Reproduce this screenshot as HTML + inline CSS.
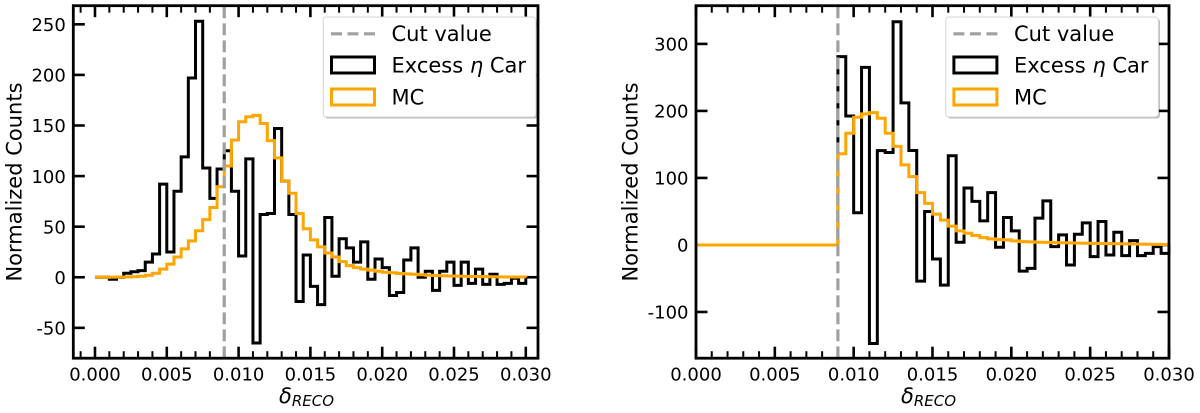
<!DOCTYPE html>
<html lang="en">
<head>
<meta charset="utf-8">
<title>Normalized Counts vs delta RECO</title>
<style>
html,body{margin:0;padding:0;background:#fff;}
body{width:1200px;height:413px;overflow:hidden;}
svg{display:block;filter:blur(0.35px);}
text{font-family:"DejaVu Sans","Liberation Sans",sans-serif;fill:#000;}
</style>
</head>
<body>
<svg id="figure" xmlns="http://www.w3.org/2000/svg" width="1200" height="413" viewBox="0 0 1200 413">
  <rect x="0" y="0" width="1200" height="413" fill="#fff"/>
  <g id="left-panel"></g>
  <g id="right-panel"></g>

  <g>
    <rect x="324.8" y="18.5" width="212.7" height="100" rx="3" fill="#000" opacity="0.28"/>
    <rect x="323.3" y="17" width="212.7" height="100" rx="3" fill="#fff" stroke="#d6d6d6" stroke-width="1"/>
    <line x1="331" y1="33.8" x2="375" y2="33.8" stroke="#a0a0a0" stroke-width="3.2" stroke-dasharray="11,5.5"/>
    <rect x="331.5" y="57" width="43" height="16" fill="none" stroke="#000" stroke-width="3"/>
    <rect x="331.5" y="89" width="43" height="16" fill="none" stroke="#ffa500" stroke-width="3"/>
    <text x="391.5" y="41" font-size="21">Cut value</text>
    <text x="391.5" y="72.5" font-size="21">Excess <tspan font-style="italic">η</tspan> Car</text>
    <text x="391.5" y="104.5" font-size="21">MC</text>
  </g>

  <g>
    <rect x="947.2" y="18.5" width="212.7" height="100" rx="3" fill="#000" opacity="0.28"/>
    <rect x="945.7" y="17" width="212.7" height="100" rx="3" fill="#fff" stroke="#d6d6d6" stroke-width="1"/>
    <line x1="953.4" y1="33.8" x2="997.4" y2="33.8" stroke="#a0a0a0" stroke-width="3.2" stroke-dasharray="11,5.5"/>
    <rect x="953.9" y="57" width="43" height="16" fill="none" stroke="#000" stroke-width="3"/>
    <rect x="953.9" y="89" width="43" height="16" fill="none" stroke="#ffa500" stroke-width="3"/>
    <text x="1014" y="41" font-size="21">Cut value</text>
    <text x="1014" y="72.5" font-size="21">Excess <tspan font-style="italic">η</tspan> Car</text>
    <text x="1014" y="104.5" font-size="21">MC</text>
  </g>
</svg>

<script>
const binWidth = 0.0005;
const cutValue = 0.009;

const leftExcess = [0,0,-2,0,4,5.5,6.5,15,23,92,25,85,119,197,253,108,78,107,125,85,21,117,-65,62,63,147,95,62,-24,22,-9,-27,59,1,38,29,15,35,-2,18,9.5,-18,-15,17,29,0,6,-13,6,15,-8,15,-6,8,-7,3,-7,-6,-1,-6];
const leftMC = [0,0,0.1,0.2,0.3,0.5,1,2,4,8,13,20,28,36,46,57,69,89.5,110,135.7,153.7,158.7,160,152,135,118,95,83,63,48,37,30,24,20,15.5,11.5,9.5,8,7,6,5,4.5,3.7,3.3,3,2.5,2,1.8,1.5,1.3,1.1,1,0.8,0.7,0.6,0.5,0.4,0.3,0.3,0.2];
const rightExcess = [0,0,0,0,0,0,0,0,0,0,0,0,0,0,0,0,0,0,281,192.5,48,265,-147,140.7,138,333,212,141,-54,50,-21,-60,133,4,85,65,36,78,-3.5,41,21,-39,-35,40,65.7,-2.5,15,-30,16,33,-17.5,35,-15,19,-16,6.5,-16,-12.5,-2.5,-12.5];
const rightMC = [0,0,0,0,0,0,0,0,0,0,0,0,0,0,0,0,0,0,136,166.7,190.5,195.5,197.5,189,166.7,147,119.4,102,78,62,46,37,28,21,17.5,14,11,9,8,7.5,6,5,4.5,4,3.8,3.5,3.2,3,2.8,2.6,2.4,2.2,2,1.8,1.6,1.4,1.2,1,0.8,0.6];

const xTickValues = [0,0.005,0.01,0.015,0.02,0.025,0.03];
const xTickLabels = ["0.000","0.005","0.010","0.015","0.020","0.025","0.030"];
const leftYTicks = [-50,0,50,100,150,200,250];
const rightYTicks = [-100,0,100,200,300];

const SVG_NS = "http://www.w3.org/2000/svg";

function make(tag, parent) {
  const el = document.createElementNS(SVG_NS, tag);
  parent.appendChild(el);
  return el;
}

function drawPanel(root, opts) {
  const box = opts.box;
  const xScale = v => box.left + (v - opts.xDomain[0]) / (opts.xDomain[1] - opts.xDomain[0]) * (box.right - box.left);
  const yScale = v => box.bottom - (v - opts.yDomain[0]) / (opts.yDomain[1] - opts.yDomain[0]) * (box.bottom - box.top);

  function histPath(values) {
    let d = "M" + xScale(0).toFixed(2) + " " + yScale(0).toFixed(2);
    values.forEach((v, i) => {
      const y = yScale(v).toFixed(2);
      d += "L" + xScale(i * binWidth).toFixed(2) + " " + y;
      d += "L" + xScale((i + 1) * binWidth).toFixed(2) + " " + y;
    });
    d += "L" + xScale(values.length * binWidth).toFixed(2) + " " + yScale(0).toFixed(2);
    return d;
  }

  function tickLine(x1, y1, x2, y2, width) {
    const t = make("line", root);
    
    
    t.setAttribute("x1", x1);
    t.setAttribute("y1", y1);
    t.setAttribute("x2", x2);
    t.setAttribute("y2", y2);
    t.setAttribute("stroke", "#000");
    t.setAttribute("stroke-width", width);
  }

  const minorStep = 0.001;
  for (let k = Math.ceil(opts.xDomain[0] / minorStep); k * minorStep <= opts.xDomain[1]; k++) {
    if (k % 5 === 0) continue;
    const x = xScale(k * minorStep);
    tickLine(x, box.bottom, x, box.bottom - 7, 2);
    tickLine(x, box.top, x, box.top + 7, 2);
  }

  xTickValues.forEach((v, i) => {
    const x = xScale(v);
    tickLine(x, box.bottom, x, box.bottom - 11.5, 2.6);
    tickLine(x, box.top, x, box.top + 11.5, 2.6);
    const label = make("text", root);
    
    
    label.setAttribute("x", x);
    label.setAttribute("y", 380.5);
    label.setAttribute("font-size", "18");
    label.setAttribute("text-anchor", "middle");
    label.textContent = xTickLabels[i];
  });

  opts.yTicks.forEach(v => {
    const y = yScale(v);
    tickLine(box.left, y, box.left + 11.5, y, 2.6);
    tickLine(box.right, y, box.right - 11.5, y, 2.6);
    const label = make("text", root);
    
    
    label.setAttribute("x", box.left - 7.5);
    label.setAttribute("y", y + 6.7);
    label.setAttribute("font-size", "18");
    label.setAttribute("text-anchor", "end");
    label.textContent = String(v);
  });

  const excess = make("path", root);
  
  
  excess.setAttribute("d", histPath(opts.excess));
  excess.setAttribute("fill", "none");
  excess.setAttribute("stroke", "#000");
  excess.setAttribute("stroke-width", "3");
  excess.setAttribute("stroke-linejoin", "miter");

  const mc = make("path", root);
  
  
  mc.setAttribute("d", histPath(opts.mc));
  mc.setAttribute("fill", "none");
  mc.setAttribute("stroke", "#ffa500");
  mc.setAttribute("stroke-width", "3");
  mc.setAttribute("stroke-linejoin", "miter");

  const cut = make("line", root);
  
  
  cut.setAttribute("x1", xScale(cutValue));
  cut.setAttribute("x2", xScale(cutValue));
  cut.setAttribute("y1", box.bottom);
  cut.setAttribute("y2", box.top);
  cut.setAttribute("stroke", "#a0a0a0");
  cut.setAttribute("stroke-width", "3.2");
  cut.setAttribute("stroke-dasharray", "11.8,5.2");

  const frame = make("rect", root);
  
  
  frame.setAttribute("x", box.left);
  frame.setAttribute("y", box.top);
  frame.setAttribute("width", box.right - box.left);
  frame.setAttribute("height", box.bottom - box.top);
  frame.setAttribute("fill", "none");
  frame.setAttribute("stroke", "#000");
  frame.setAttribute("stroke-width", "2.8");

  const yTitle = make("text", root);
  
  
  yTitle.setAttribute("font-size", "21");
  yTitle.setAttribute("text-anchor", "middle");
  yTitle.setAttribute("transform", "translate(" + opts.yTitleX + " 182) rotate(-90)");
  yTitle.textContent = "Normalized Counts";

  const xTitle = make("text", root);
  
  
  xTitle.setAttribute("x", opts.xTitleX);
  xTitle.setAttribute("y", 403);
  xTitle.setAttribute("font-size", "21");
  xTitle.setAttribute("font-style", "italic");
  xTitle.setAttribute("text-anchor", "middle");
  const delta = make("tspan", xTitle);
  delta.textContent = "δ";
  const sub = make("tspan", xTitle);
  sub.setAttribute("font-size", "15");
  sub.setAttribute("dy", "3");
  sub.textContent = "RECO";
}

drawPanel(document.getElementById("left-panel"), {
  box: {left: 73.3, right: 538, top: 5.7, bottom: 358.2},
  xDomain: [-0.00151, 0.03085],
  yDomain: [-80, 268.4],
  excess: leftExcess,
  mc: leftMC,
  yTicks: leftYTicks,
  yTitleX: 21.5,
  xTitleX: 306.5
});

drawPanel(document.getElementById("right-panel"), {
  box: {left: 696, right: 1169, top: 5.7, bottom: 358.2},
  xDomain: [0, 0.03],
  yDomain: [-169, 357],
  excess: rightExcess,
  mc: rightMC,
  yTicks: rightYTicks,
  yTitleX: 637.5,
  xTitleX: 928.5
});
</script>
</body>
</html>
